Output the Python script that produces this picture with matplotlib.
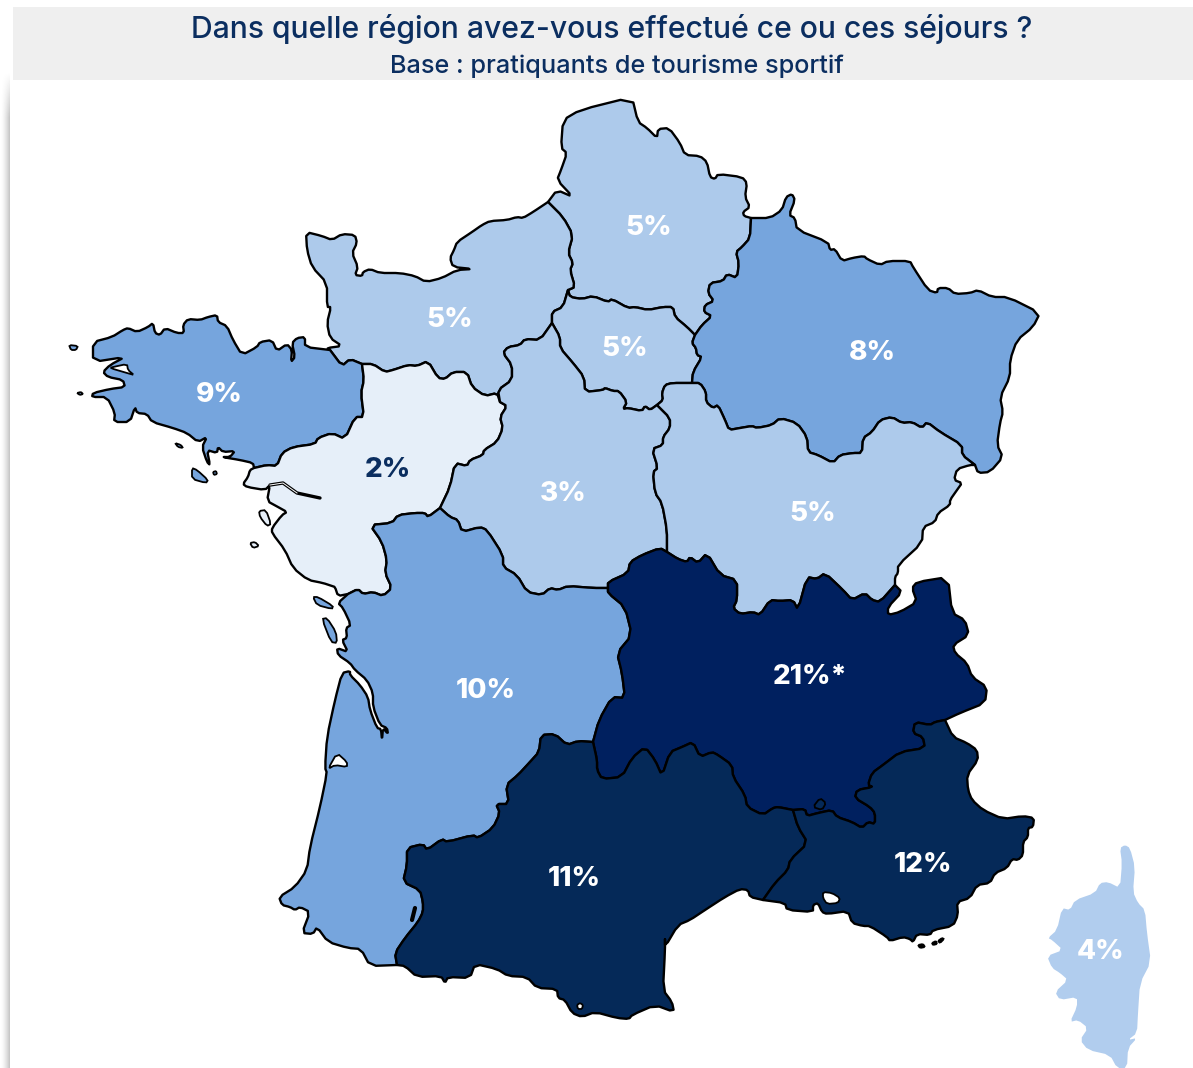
import numpy as np
import matplotlib
matplotlib.use("Agg")
import matplotlib.pyplot as plt
from matplotlib.patches import Polygon, Rectangle

title = "Dans quelle région avez-vous effectué ce ou ces séjours ?"
subtitle = "Base : pratiquants de tourisme sportif"

regions = ["hauts", "normandie", "idf", "grand_est", "bretagne", "pdl", "centre",
           "bfc", "na", "aura", "occitanie", "paca", "corse"]
values = [5, 5, 5, 8, 9, 2, 3, 5, 10, 21, 11, 12, 4]
suffix = {"aura": "*"}

# shared borders, pixel coordinates of the picture
hauts_coast = [(548,202),(557,190),(573,197),(557,180),(561,170),(567,153),(561,148),(563,120),(580,110),(632,97),
               (638,122),(647,128),(657,138),(658,129),(669,128),(680,143),(685,155),(700,156),(707,162),(710,177),
               (715,179),(718,174),(742,177),(747,183),(745,197),(750,207),(743,212),(744,216),(751,218)]
hauts_ge = [(751,218),(750,238),(742,247),(736,252),(739,263),(737,278),(727,274),(723,281),(710,283),(708,293),
            (714,301),(705,305),(704,312),(712,316),(702,325),(695,335)]
hauts_idf = [(695,335),(687,327),(675,317),(673,307),(663,307),(648,310),(635,307),(628,308),(612,299),(608,302),
             (593,296),(582,299),(570,297),(568,290)]
hauts_norm = [(568,290),(575,287),(570,270),(573,263),(568,253),(573,235),(563,217),(548,202)]
norm_coast = [(548,202),(533,212),(523,218),(517,217),(507,220),(490,221),(482,225),(472,232),(457,242),(454,250),
              (450,258),(453,267),(473,269),(457,270),(442,278),(426,282),(415,276),(400,273),(380,273),(370,269),
              (363,272),(362,276),(355,275),(358,267),(352,253),(357,243),(355,235),(342,234),(332,240),(322,236),
              (306,232),(307,250),(312,267),(327,283),(327,307),(331,307),(327,323),(330,338),(342,346),(327,348),(330,350)]
norm_bret = [(330,350),(342,366),(350,359),(362,364)]
norm_pdl = [(362,364),(373,364),(385,372),(393,370),(408,365),(417,366),(428,361),(438,378),(445,379),(453,372),
            (467,372),(472,387),(485,396),(497,393),(500,402)]
norm_centre = [(500,402),(498,390),(512,380),(512,365),(503,353),(508,347),(520,345),(525,339),(540,340),(552,323)]
norm_idf = [(552,323),(552,312),(563,307),(568,290)]
idf_ge = [(695,335),(692,343),(696,348),(697,355),(702,357),(693,372),(692,383)]
idf_bfc = [(657,405),(663,400),(662,393),(665,385),(672,383),(692,383)]
idf_centre = [(552,323),(560,337),(560,348),(573,363),(584,377),(585,392),(603,390),(605,388),(613,391),(619,391),
              (627,402),(623,409),(628,408),(642,411),(645,406),(650,410),(657,405)]
bret_coast = [(330,350),(305,347),(305,337),(297,338),(292,343),(295,357),(291,362),(292,350),(287,344),(277,351),
              (272,340),(260,342),(257,347),(242,355),(233,340),(227,326),(218,322),(217,315),(208,317),(200,320),
              (188,319),(183,325),(184,333),(177,333),(165,328),(160,335),(155,333),(153,323),(148,327),(137,332),
              (128,328),(123,330),(112,337),(93,342),(93,362),(125,357),(110,365),(103,372),(108,377),(123,380),
              (125,387),(110,389),(93,393),(92,397),(107,397),(115,413),(114,422),(130,422),(135,407),(137,413),
              (147,414),(152,422),(173,428),(187,433),(198,442),(207,437),(202,447),(207,462),(210,465),(207,450),
              (217,453),(218,447),(223,452),(235,451),(230,457),(222,457),(240,460),(253,463),(254,468)]
bret_pdl = [(254,468),(267,465),(277,466),(282,453),(293,447),(315,444),(318,438),(332,433),(345,439),(355,417),
            (364,417),(361,393),(364,380),(362,364)]
pdl_centre = [(500,402),(507,406),(500,417),(503,428),(497,442),(484,450),(483,455),(470,460),(467,466),(455,463),
              (450,487),(440,508)]
pdl_na = [(440,508),(428,517),(425,513),(415,513),(398,515),(392,523),(370,525),(382,542),(387,560),(385,573),
          (392,588),(383,596),(373,592),(363,594),(358,589),(348,594)]
pdl_coast = [(348,594),(338,596),(335,587),(332,586),(323,583),(308,580),(293,568),(285,550),(272,533),(272,528),
             (282,515),(287,512),(278,507),(267,501),(270,485),(265,490),(247,487),(243,484),(248,477),(250,470),(254,468)]
centre_na = [(440,508),(450,517),(458,520),(462,532),(480,527),(487,530),(503,555),(503,567),(517,575),(527,592),
             (542,595),(550,588),(558,590),(568,586),(593,588),(608,588)]
centre_aura = [(608,588),(608,582),(628,573),(630,562),(642,555),(660,548),(667,552)]
bfc_centre = [(657,405),(670,418),(670,428),(663,437),(663,445),(652,449),(658,468),(653,472),(655,493),(662,503),
              (667,530),(667,552)]
bfc_ge = [(692,383),(700,383),(706,392),(706,402),(713,408),(718,405),(725,420),(729,430),(740,428),(752,426),
          (757,428),(772,425),(780,418),(797,423),(807,437),(808,452),(818,455),(833,463),(840,455),(853,453),
          (862,453),(863,438),(872,432),(880,420),(892,417),(902,423),(912,422),(922,428),(927,422),(940,432),
          (962,445),(962,455),(975,465)]
ge_coast = [(975,465),(978,473),(990,472),(1003,457),(997,445),(1000,423),(1003,412),(1000,397),(1010,377),(1010,360),
            (1017,340),(1033,327),(1040,313),(1008,297),(992,297),(978,290),(970,293),(955,294),(948,288),(938,288),
            (937,293),(928,290),(913,267),(910,261),(888,261),(880,265),(867,259),(864,256),(852,258),(842,261),
            (835,249),(830,250),(828,242),(797,230),(795,218),(789,215),(795,200),(792,194),(786,197),(782,210),
            (770,218),(751,218)]
bfc_coast = [(975,465),(970,465),(957,469),(954,480),(962,483),(957,490),(950,500),(950,505),(938,513),(935,522),
             (923,527),(922,543),(898,565),(898,573),(895,577),(895,585)]
bfc_aura = [(895,585),(880,602),(872,600),(865,593),(852,600),(843,590),(825,573),(817,579),(807,577),(798,610),
            (793,600),(780,601),(770,600),(760,615),(753,612),(740,614),(733,608),(737,600),(737,580),(720,575),
            (707,553),(698,563),(690,557),(687,562),(678,559),(667,552)]
aura_coast = [(895,585),(902,592),(888,607),(888,615),(900,612),(917,602),(912,588),(917,582),(948,577),(952,613),
              (965,620),(969,635),(953,645),(955,653),(967,663),(972,677),(987,687),(985,703),(960,713),(945,720)]
aura_paca = [(945,720),(935,722),(930,725),(915,722),(913,733),(923,737),(925,748),(900,752),(883,765),(872,773),
             (868,785),(873,787),(857,790),(855,798),(870,807),(875,813),(875,824),(868,822),(862,828),(852,822),
             (837,817),(832,810),(818,813),(807,816),(805,809),(793,810)]
aura_occ = [(793,810),(778,807),(773,808),(763,815),(747,807),(745,795),(733,777),(732,765),(718,755),(712,752),
            (700,757),(693,742),(682,747),(670,752),(662,776),(655,760),(645,747),(632,758),(622,777),(602,779),
            (597,770),(597,760),(593,742)]
na_aura = [(593,742),(599,720),(612,697),(625,698),(622,673),(617,653),(632,635),(625,607),(608,593),(608,588)]
na_occ = [(397,965),(395,953),(405,938),(418,922),(423,912),(423,902),(420,890),(403,882),(407,865),(407,848),
          (423,844),(427,850),(442,839),(447,842),(473,835),(478,838),(493,828),(500,813),(496,804),(509,804),
          (506,785),(518,775),(530,762),(539,752),(541,735),(555,734),(567,745),(578,741),(593,742)]
na_coast = [(348,594),(338,603),(343,608),(351,625),(346,628),(347,638),(342,640),(348,652),(337,648),(338,655),
            (350,663),(355,670),(367,680),(373,693),(373,707),(380,725),(387,728),(388,734),(383,728),(382,740),
            (381,729),(377,728),(370,710),(368,697),(360,685),(350,675),(350,671),(342,673),(335,700),(327,737),
            (325,768),(327,773),(320,807),(310,847),(307,870),(295,887),(279,897),(282,905),(290,907),(295,910),
            (300,907),(310,912),(302,933),(313,934),(317,927),(328,942),(348,948),(361,949),(370,966),(397,965)]
occ_paca = [(793,810),(798,827),(808,843),(790,860),(788,870),(775,883),(763,900)]
occ_coast = [(763,900),(750,897),(748,890),(740,889),(725,897),(705,910),(690,920),(678,925),(665,947),(665,937),
             (665,950),(663,990),(672,1002),(674,1012),(655,1005),(632,1015),(629,1019),(617,1018),(595,1012),(582,1017),
             (572,1013),(565,1000),(558,998),(557,989),(537,988),(527,977),(508,976),(497,969),(475,964),(470,978),
             (448,977),(445,983),(441,976),(417,977),(405,966),(397,965)]
paca_coast = [(763,900),(785,903),(787,910),(813,912),(813,905),(818,903),(822,912),(827,914),(848,911),(852,923),
              (863,926),(870,926),(887,937),(890,941),(903,937),(910,939),(913,942),(917,934),(930,935),(933,930),
              (953,926),(958,915),(957,902),(970,898),(977,885),(990,883),(995,873),(1007,868),(1012,859),(1018,860),
              (1023,855),(1023,842),(1028,837),(1028,828),(1033,827),(1034,818),(1023,816),(1003,819),(983,810),(972,800),
              (968,790),(967,775),(978,760),(977,750),(967,743),(953,737),(945,720)]
corse_outline = [(1125,845),(1130,848),(1135,867),(1133,892),(1138,903),(1145,910),(1147,933),(1151,962),(1140,983),
                 (1138,1013),(1137,1033),(1128,1040),(1137,1038),(1128,1048),(1127,1068),(1117,1068),(1110,1055),(1088,1050),
                 (1080,1040),(1088,1028),(1078,1020),(1070,1022),(1077,1007),(1077,997),(1060,1000),(1055,992),(1068,980),
                 (1060,973),(1052,968),(1047,956),(1063,950),(1052,940),(1048,938),(1057,930),(1062,908),(1070,910),
                 (1075,900),(1095,893),(1100,883),(1108,882),(1120,888),(1122,863),(1120,848)]

# islands and small details
iles_bretagne = [[(69,345),(78,346),(76,350),(71,350)], [(77,393),(81,392),(83,394),(80,395)],
                 [(175,443),(181,445),(183,448),(178,447)], [(192,468),(197,470),(208,480),(206,483),(192,479)],
                 [(213,472),(216,471),(217,474),(214,475)]]
iles_pdl = [[(259,511),(266,510),(271,524),(267,526),(260,517)], [(250,543),(255,542),(259,546),(253,548)]]
iles_na = [[(313,597),(318,597),(333,606),(332,609),(317,605)], [(322,619),(327,618),(336,632),(337,643),(331,642)]]
iles_hyeres = [[(918,945),(923,944),(925,947),(920,948)], [(932,943),(936,941),(937,944),(933,945)],
               [(938,941),(942,938),(944,939),(940,943)]]
rade_brest = [(113,367),(127,364),(128,370),(134,375),(127,373),(110,368)]
arcachon = [(328,769),(337,753),(347,762),(347,767),(335,765)]
berre = [(823,892),(832,893),(840,898),(838,903),(827,904),(823,898)]
llivia = [(577,1005),(580,1003),(583,1005),(582,1009),(578,1009)]
valreas = [(813,807),(820,798),(826,803),(822,810)]
loire = [(270,485),(283,483),(297,493),(320,498)]
lac_landes = [(415,908),(412,920)]

shapes = {
    "hauts": hauts_coast + hauts_ge + hauts_idf + hauts_norm,
    "normandie": norm_coast + norm_bret + norm_pdl + norm_centre + norm_idf + hauts_norm,
    "idf": hauts_idf[::-1] + idf_ge + idf_bfc[::-1] + idf_centre[::-1] + norm_idf,
    "grand_est": hauts_ge[::-1] + ge_coast[::-1] + bfc_ge[::-1] + idf_ge[::-1],
    "bretagne": bret_coast + bret_pdl + norm_bret[::-1],
    "pdl": norm_pdl + pdl_centre + pdl_na + pdl_coast + bret_pdl,
    "centre": norm_centre[::-1] + pdl_centre + centre_na + centre_aura + bfc_centre[::-1] + idf_centre[::-1],
    "bfc": idf_bfc + bfc_ge + bfc_coast + bfc_aura + bfc_centre[::-1],
    "na": pdl_na[::-1] + centre_na + na_aura[::-1] + na_occ[::-1] + na_coast[::-1],
    "aura": centre_aura + bfc_aura[::-1] + aura_coast + aura_paca + aura_occ + na_aura,
    "occitanie": na_occ + aura_occ[::-1] + occ_paca + occ_coast,
    "paca": occ_paca[::-1] + aura_paca[::-1] + paca_coast[::-1],
}

label_pos = {"hauts": (649,228), "normandie": (450,320), "idf": (625,349), "grand_est": (872,353),
             "bretagne": (219,395), "pdl": (388,470), "centre": (563,494), "bfc": (813,514), "na": (486,691),
             "aura": (810,677), "occitanie": (574,879), "paca": (923,865), "corse": (1101,952)}

PALE, LIGHT, MID, DARK, NAVY = "#e6eff9", "#adcaeb", "#76a5dd", "#052958", "#00205f"
TEXT = "#0b2e60"


def colour(v):
    if v <= 2:
        return PALE
    if v <= 5:
        return LIGHT
    if v <= 10:
        return MID
    if v <= 12:
        return DARK
    return NAVY


def rounded(points, cut=0.22):
    # cut the corners once; repeated points at the junctions stay where they are
    pts = np.array(points, dtype=float)
    nxt = np.roll(pts, -1, axis=0)
    out = np.empty((len(pts) * 2, 2))
    out[0::2] = pts + cut * (nxt - pts)
    out[1::2] = nxt - cut * (nxt - pts)
    return out


fig = plt.figure(figsize=(11.93, 10.68), dpi=100)
ax = fig.add_axes([0, 0, 1, 1])
ax.axis("off")

# shadow on the left of the page
xfade = (np.arange(10) / 9.0)[None, :] ** 1.5
yfade = np.clip((np.arange(1068) - 72) / 45.0, 0, 1)[:, None]
shadow = 1 - 0.22 * xfade * yfade
ax.imshow(shadow, extent=(0, 10, 1068, 0), cmap="gray", vmin=0, vmax=1, aspect="auto", zorder=0)
ax.set_xlim(0, 1193)
ax.set_ylim(1068, 0)

ax.add_patch(Rectangle((13, 7), 1180, 73, fc="#efefef", ec="none", zorder=1))
ax.text(612, 29, title, color=TEXT, fontsize=21.7, family="Inter", weight=500, ha="center", va="center", zorder=5)
ax.text(617, 66, subtitle, color=TEXT, fontsize=18.2, family="Inter", weight=500, ha="center", va="center", zorder=5)

LW = 1.7
for name, v in zip(regions, values):
    if name == "corse":
        ax.add_patch(Polygon(rounded(corse_outline), closed=True, fc="#b1cdee", ec="none", zorder=2))
    else:
        ax.add_patch(Polygon(rounded(shapes[name]), closed=True, fc=colour(v), ec="black", lw=LW,
                             joinstyle="round", zorder=2))

for isl in iles_bretagne:
    ax.add_patch(Polygon(rounded(isl), closed=True, fc=MID, ec="black", lw=1.3, zorder=3))
for isl in iles_pdl:
    ax.add_patch(Polygon(rounded(isl), closed=True, fc=PALE, ec="black", lw=1.3, zorder=3))
for isl in iles_na:
    ax.add_patch(Polygon(rounded(isl), closed=True, fc=MID, ec="black", lw=1.3, zorder=3))
for isl in iles_hyeres:
    ax.add_patch(Polygon(rounded(isl), closed=True, fc="black", ec="black", lw=1.3, zorder=3))
for hole in [rade_brest, arcachon, berre, llivia]:
    ax.add_patch(Polygon(rounded(hole), closed=True, fc="white", ec="black", lw=1.3, zorder=3))
ax.add_patch(Polygon(rounded(valreas), closed=True, fc=DARK, ec="black", lw=1.3, zorder=3))

lx, ly = zip(*loire)
ax.plot(lx, ly, color="black", lw=2.4, solid_capstyle="round", zorder=3)
ax.plot(lx[:3], ly[:3], color="white", lw=0.7, zorder=3)
lx, ly = zip(*lac_landes)
ax.plot(lx, ly, color="black", lw=3, solid_capstyle="round", zorder=3)

for name, v in zip(regions, values):
    col = TEXT if v == 2 else "white"
    x, y = label_pos[name]
    ax.text(x, y, f"{v}%" + suffix.get(name, ""), color=col, fontsize=20, family="Inter", weight=800,
            ha="center", va="center", zorder=6)

fig.savefig("out.png", dpi=100)
